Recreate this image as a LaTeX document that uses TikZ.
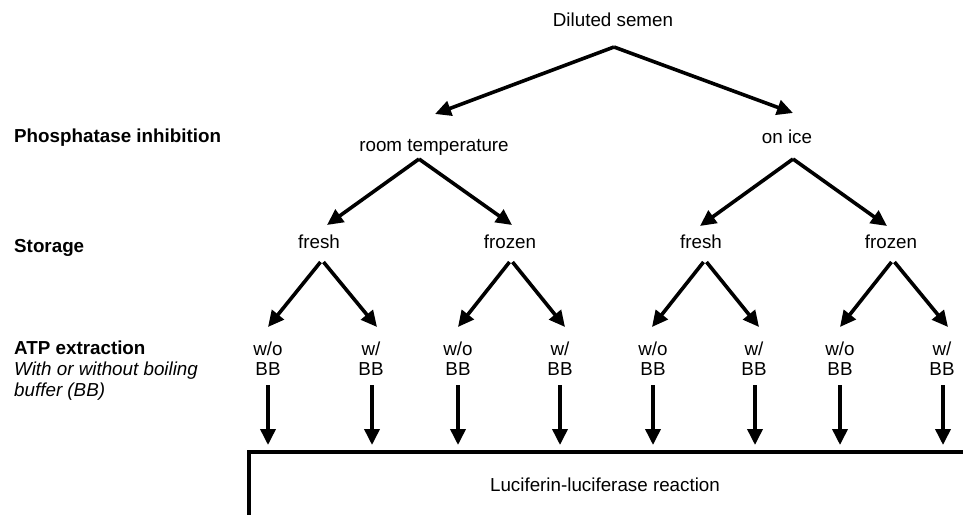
\documentclass[tikz,border=0pt]{standalone}
\usepackage{fontspec}
\setmainfont{Liberation Sans}
\usetikzlibrary{arrows.meta}
\begin{document}
\begin{tikzpicture}[x=1pt,y=-1pt,
  lbl/.style={inner sep=0pt,font=\fontsize{18.8}{20}\selectfont},
  side/.style={lbl,anchor=base west,font=\fontsize{18.8}{21}\selectfont\bfseries},
  leaf/.style={lbl,align=center,anchor=north,font=\fontsize{18.8}{20}\selectfont},
  arr/.style={line width=3.6pt,-{Triangle[length=16pt,width=15pt]}},
  boxline/.style={line width=3.6pt}]
\useasboundingbox (0,0) rectangle (963,514);
% texts
\node[lbl,anchor=base] (ds) at (613,27) {Diluted semen};
\node[lbl,anchor=base] (rt) at (434,151) {room temperature};
\node[lbl,anchor=base] (oi) at (787,143) {on ice};
\node[lbl,anchor=base] (f1) at (319,248) {fresh};
\node[lbl,anchor=base] (z1) at (510,248) {frozen};
\node[lbl,anchor=base] (f2) at (701,248) {fresh};
\node[lbl,anchor=base] (z2) at (891,248) {frozen};
\node[side] (ph) at (14,142) {Phosphatase inhibition};
\node[side] (st) at (14,252) {Storage};
\node[lbl,anchor=north west,align=left,font=\fontsize{18.8}{21}\selectfont] (atp) at (14,341)
  {\textbf{ATP extraction}\\\textit{With or without boiling}\\\textit{buffer (BB)}};
\node[leaf] (a1) at (268,342) {w/o\\BB};
\node[leaf] (b1) at (371,342) {w/\\BB};
\node[leaf] (a2) at (458,342) {w/o\\BB};
\node[leaf] (b2) at (560,342) {w/\\BB};
\node[leaf] (a3) at (653,342) {w/o\\BB};
\node[leaf] (b3) at (754,342) {w/\\BB};
\node[leaf] (a4) at (840,342) {w/o\\BB};
\node[leaf] (b4) at (942,342) {w/\\BB};
\node[lbl,anchor=base] (luc) at (605,491) {Luciferin-luciferase reaction};
% branch points
\coordinate (ds-o) at (614,47);
\coordinate (rt-i) at (435,114);
\coordinate (oi-i) at (793,113);
\coordinate (rt-o) at (419,159);
\coordinate (oi-o) at (793,159);
\coordinate (f1-i) at (327,225);
\coordinate (z1-i) at (512,225);
\coordinate (f2-i) at (700,226);
\coordinate (z2-i) at (887,226);
\coordinate (f1-o) at (322,262);
\coordinate (z1-o) at (511,262);
\coordinate (f2-o) at (705,262);
\coordinate (z2-o) at (893,262);
\coordinate (a1-i) at (268,327);
\coordinate (b1-i) at (377,327);
\coordinate (a2-i) at (458,327);
\coordinate (b2-i) at (565,327);
\coordinate (a3-i) at (652,327);
\coordinate (b3-i) at (759,327);
\coordinate (a4-i) at (840,327);
\coordinate (b4-i) at (948,327);
% box
\coordinate (bx-bl) at (249,530);
\coordinate (bx-tl) at (249,452);
\coordinate (bx-tr) at (975,452);
\draw[boxline] (bx-bl) -- (bx-tl) -- (bx-tr);
% arrows
\draw[arr] (ds-o) -- (rt-i);
\draw[arr] (ds-o) -- (oi-i);
\draw[arr] (rt-o) -- (f1-i);
\draw[arr] (rt-o) -- (z1-i);
\draw[arr] (oi-o) -- (f2-i);
\draw[arr] (oi-o) -- (z2-i);
\draw[arr] ([xshift=-1.5pt]f1-o) -- (a1-i);
\draw[arr] ([xshift=1.5pt]f1-o) -- (b1-i);
\draw[arr] ([xshift=-1.5pt]z1-o) -- (a2-i);
\draw[arr] ([xshift=1.5pt]z1-o) -- (b2-i);
\draw[arr] ([xshift=-1.5pt]f2-o) -- (a3-i);
\draw[arr] ([xshift=1.5pt]f2-o) -- (b3-i);
\draw[arr] ([xshift=-1.5pt]z2-o) -- (a4-i);
\draw[arr] ([xshift=1.5pt]z2-o) -- (b4-i);
\foreach \n/\x in {a1/268,b1/372,a2/458,b2/560,a3/653,b3/755,a4/840,b4/943}{
  \coordinate (\n-d) at (\x,385);
  \coordinate (\n-t) at (\x,445);
  \draw[arr] (\n-d) -- (\n-t);
}
\end{tikzpicture}
\end{document}
